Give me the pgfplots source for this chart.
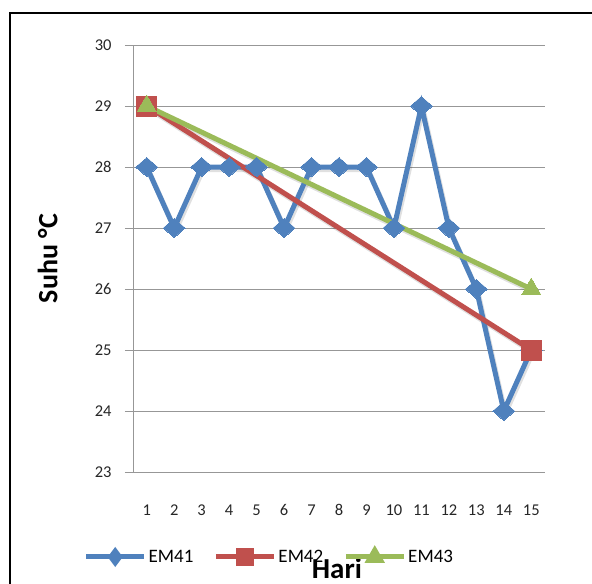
\documentclass[border=0pt]{standalone}
\usepackage{pgfplots}
\pgfplotsset{compat=1.18}
\usepackage{fontspec}
\setmainfont{Carlito}

\definecolor{emblue}{HTML}{4F81BD}
\definecolor{emred}{HTML}{C0504D}
\definecolor{emgreen}{HTML}{9BBB59}
\definecolor{gridgray}{HTML}{979797}

\pgfplotstableread{
day temp
1  28
2  27
3  28
4  28
5  28
6  27
7  28
8  28
9  28
10 27
11 29
12 27
13 26
14 24
15 25
}\emfortyone
\pgfplotstableread{
day temp
1  29
15 25
}\emfortytwo
\pgfplotstableread{
day temp
1  29
15 26
}\emfortythree

\begin{document}
\begin{tikzpicture}
\begin{axis}[
  at={(133bp,112bp)}, anchor=south west,
  scale only axis,
  width=412bp, height=427bp,
  xmin=0.5, xmax=15.5,
  ymin=23, ymax=30,
  xtick={1,...,15},
  ytick={23,...,30},
  axis x line*=bottom,
  axis y line*=left,
  axis line style={gridgray, line width=0.9bp, -},
  ymajorgrids,
  major grid style={gridgray, line width=0.9bp},
  xtick style={draw=none},
  ytick style={gridgray, line width=0.9bp},
  tick align=outside,
  major tick length=8bp,
  /pgf/number format/assume math mode=true,
  ticklabel style={font=\fontsize{16.5bp}{19bp}\selectfont, text=black!85},
  xticklabel style={yshift=-21bp},
  yticklabel style={xshift=-10bp},
  xlabel={Hari},
  xlabel style={font=\bfseries\fontsize{29bp}{32bp}\selectfont, at={(axis description cs:0.495,-0.225)}, anchor=center},
  legend columns=3,
  legend cell align=left,
  legend style={draw=none, fill=none, at={(axis description cs:0.331,-0.199)}, anchor=center,
    font=\fontsize{19bp}{21bp}\selectfont,
    /tikz/every even column/.append style={column sep=18bp}},
  legend image code/.code={\draw[mark repeat=2, mark phase=2, #1] plot coordinates {(0bp,0bp) (29bp,0bp) (58bp,0bp)};},
  every legend image post/.style={mark options={scale=0.62}},
  clip=false,
]
% soft drop shadows under the three lines
\addplot[black, opacity=0.12, line width=5bp, xshift=1.5bp, yshift=-2.5bp, forget plot]
  table[x=day, y=temp] {\emfortyone};
\addplot[black, opacity=0.12, line width=5bp, xshift=1.5bp, yshift=-2.5bp, forget plot]
  table[x=day, y=temp] {\emfortytwo};
\addplot[black, opacity=0.12, line width=5bp, xshift=1.5bp, yshift=-2.5bp, forget plot]
  table[x=day, y=temp] {\emfortythree};
% EM41: daily readings
\addplot[emblue, line width=5bp, mark=diamond*, mark size=9.5bp, mark options={solid, line width=0bp, fill=emblue, xscale=1.53}]
  table[x=day, y=temp] {\emfortyone};
\addlegendentry{EM41}
% EM42: first and last day only
\addplot[emred, line width=5bp, mark=square*, mark size=10bp, mark options={solid, line width=0bp, fill=emred}]
  table[x=day, y=temp] {\emfortytwo};
\addlegendentry{EM42}
% EM43: first and last day only
\addplot[emgreen, line width=5bp, mark=triangle*, mark size=11bp, mark options={solid, line width=0bp, fill=emgreen}]
  table[x=day, y=temp] {\emfortythree};
\addlegendentry{EM43}
% vertical axis title
\node[rotate=90, anchor=center, font=\bfseries\fontsize{28bp}{32bp}\selectfont]
  at (axis description cs:-0.207,0.5) {Suhu °C};
\end{axis}
\draw[line width=2.5bp] (10bp,-20bp) -- (10bp,571bp) -- (620bp,571bp);
\pgfresetboundingbox
\useasboundingbox (0,0) rectangle (592bp,584bp);
\end{tikzpicture}
\end{document}
